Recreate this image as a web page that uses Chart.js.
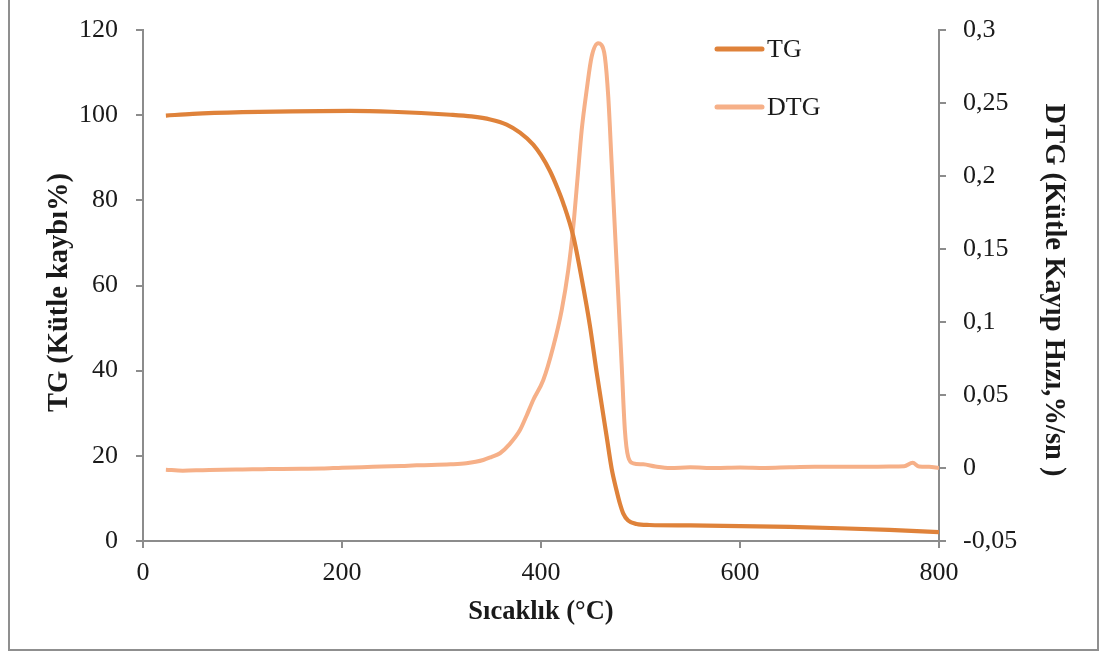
<!DOCTYPE html>
<html><head><meta charset="utf-8">
<script src="https://cdn.jsdelivr.net/npm/chart.js@4.4.1/dist/chart.umd.min.js"></script>
<style>html,body{margin:0;padding:0;background:#fff;}canvas{display:block}</style>
</head><body>
<canvas id="c" width="1105" height="655"></canvas>
<script>
// ---- data ----
const tgTemp  = [23, 50, 100, 150, 208, 250, 309, 330, 349, 365.5, 378.9, 392.2, 400, 409, 416, 422.4, 432.4, 440.9, 449.2, 456, 461, 466, 471, 476, 479.3, 482.6, 487.6, 496, 509, 550, 600, 650, 700, 750, 800];
const tgValue = [99.9, 100.3, 100.7, 100.9, 101.0, 100.8, 100.1, 99.7, 99.0, 97.8, 95.9, 93.1, 90.6, 86.9, 83.2, 79.3, 71.6, 61.6, 50.5, 39.5, 32.0, 24.5, 17.0, 11.8, 8.8, 6.5, 4.8, 4.0, 3.76, 3.65, 3.5, 3.3, 3.0, 2.6, 2.1];

const dtgTemp  = [23, 40, 60, 80, 100, 120, 140, 160, 180, 200, 220, 240, 260, 275, 290, 309, 325, 342, 350, 358.8, 368, 378.9, 385.6, 392.2, 402.3, 412.3, 420.8, 427.4, 432.4, 436.4, 440.9, 445.9, 450.9, 457.5, 460.5, 464.2, 467.6, 471, 474.3, 477.7, 481, 484.3, 487.6, 492.7, 502.7, 515, 530, 550, 575, 600, 625, 650, 675, 700, 725, 750, 765, 773.5, 780, 790, 800];
const dtgValue = [-0.0012, -0.0018, -0.0015, -0.0012, -0.0010, -0.0008, -0.0006, -0.0005, -0.0004, 0.0002, 0.0005, 0.0010, 0.0014, 0.0018, 0.0020, 0.0025, 0.0033, 0.0055, 0.0075, 0.0101, 0.0160, 0.0260, 0.0360, 0.0466, 0.0603, 0.0831, 0.1082, 0.1356, 0.1650, 0.1960, 0.2315, 0.2589, 0.2817, 0.2909, 0.2900, 0.2817, 0.2543, 0.2087, 0.1630, 0.1173, 0.0717, 0.0260, 0.0077, 0.0032, 0.0025, 0.0010, 0.0000, 0.0005, 0.0000, 0.0003, 0.0000, 0.0005, 0.0008, 0.0008, 0.0008, 0.0010, 0.0012, 0.0036, 0.0010, 0.0008, 0.0000];

const seriesNames = ['TG', 'DTG'];
const xTickValues = [0, 200, 400, 600, 800];
const leftTickValues = [0, 20, 40, 60, 80, 100, 120];
const rightTickValues = [-0.05, 0, 0.05, 0.1, 0.15, 0.2, 0.25, 0.3];
const rightTickLabels = ['-0,05', '0', '0,05', '0,1', '0,15', '0,2', '0,25', '0,3'];
const xTitle = 'Sıcaklık (°C)';
const leftTitle = 'TG (Kütle kaybı%)';
const rightTitle = 'DTG (Kütle Kayıp Hızı,%/sn )';

// ---- styling ----
const FONT = "'Liberation Serif', 'Times New Roman', serif";
const TG_COLOR = 'rgb(223,130,58)';
const DTG_COLOR = 'rgb(246,176,136)';
const AXIS_COLOR = '#8c8c8c';
const TEXT_COLOR = '#1a1a1a';

const toPoints = (xs, ys) => xs.map((x, i) => ({x: x, y: ys[i]}));

const bgPlugin = {
  id: 'bg',
  beforeDraw(chart) {
    const ctx = chart.ctx;
    ctx.save();
    ctx.fillStyle = '#fff';
    ctx.fillRect(0, 0, chart.width, chart.height);
    ctx.strokeStyle = '#8f8f8f';
    ctx.lineWidth = 2;
    ctx.strokeRect(9, -5, 1089, 655);
    ctx.restore();
  }
};

// y-axis titles (drawn centred where the reference puts them)
const yTitlesPlugin = {
  id: 'yTitles',
  afterDraw(chart) {
    const ctx = chart.ctx;
    [[leftTitle, 60, 292.5, -Math.PI / 2], [rightTitle, 1053, 290, Math.PI / 2]].forEach(([t, x, y, r]) => {
      ctx.save();
      ctx.fillStyle = TEXT_COLOR;
      ctx.font = "bold 28.5px " + FONT;
      ctx.textAlign = 'center';
      ctx.textBaseline = 'middle';
      ctx.translate(x, y);
      ctx.rotate(r);
      ctx.fillText(t, 0, 0);
      ctx.restore();
    });
  }
};

const legendPlugin = {
  id: 'customLegend',
  afterDatasetsDraw(chart) {
    const ctx = chart.ctx;
    const items = chart.data.datasets;
    const rows = [49, 107];
    ctx.save();
    items.forEach((ds, i) => {
      const y = rows[i];
      ctx.strokeStyle = ds.borderColor;
      ctx.lineWidth = 5;
      ctx.lineCap = 'round';
      ctx.beginPath();
      ctx.moveTo(717, y);
      ctx.lineTo(762, y);
      ctx.stroke();
      ctx.fillStyle = TEXT_COLOR;
      ctx.font = "26px " + FONT;
      ctx.textAlign = 'left';
      ctx.textBaseline = 'middle';
      ctx.fillText(ds.label, 767, y + 1);
    });
    ctx.restore();
  }
};

const gridOpts = {
  display: true,
  drawOnChartArea: false,
  drawTicks: true,
  tickLength: 7,
  color: AXIS_COLOR,
  lineWidth: 2
};

function fixVertical(width) {
  return function (s) {
    s.width = width;
    s.paddingTop = 0;
    s.paddingBottom = 0;
  };
}

new Chart(document.getElementById('c'), {
  type: 'line',
  data: {
    datasets: [
      {
        label: seriesNames[0],
        data: toPoints(tgTemp, tgValue),
        yAxisID: 'y',
        borderColor: TG_COLOR,
        borderWidth: 4.2,
        pointRadius: 0,
        cubicInterpolationMode: 'monotone',
        fill: false
      },
      {
        label: seriesNames[1],
        data: toPoints(dtgTemp, dtgValue),
        yAxisID: 'y1',
        borderColor: DTG_COLOR,
        borderWidth: 4,
        pointRadius: 0,
        cubicInterpolationMode: 'monotone',
        fill: false
      }
    ]
  },
  options: {
    responsive: false,
    animation: false,
    layout: {padding: {top: 30, left: 0, right: 0, bottom: 0}},
    plugins: {legend: {display: false}, tooltip: {enabled: false}},
    scales: {
      x: {
        type: 'linear',
        position: 'bottom',
        min: 0, max: 800,
        afterBuildTicks(s) { s.ticks = xTickValues.map(v => ({value: v})); },
        afterFit(s) { s.height = 114; s.paddingLeft = 0; s.paddingRight = 0; },
        grid: gridOpts,
        border: {display: true, color: AXIS_COLOR, width: 2},
        ticks: {color: TEXT_COLOR, font: {family: FONT, size: 26}, padding: 10, maxRotation: 0, autoSkip: false},
        title: {display: true, text: xTitle, color: TEXT_COLOR, font: {family: FONT, size: 26.5, weight: 'bold'}, padding: {top: 0, bottom: 27}}
      },
      y: {
        type: 'linear',
        position: 'left',
        min: 0, max: 120,
        afterBuildTicks(s) { s.ticks = leftTickValues.map(v => ({value: v})); },
        afterFit: fixVertical(143),
        grid: gridOpts,
        border: {display: true, color: AXIS_COLOR, width: 2},
        ticks: {color: TEXT_COLOR, font: {family: FONT, size: 26}, padding: 18, autoSkip: false},
        title: {display: false, text: leftTitle}
      },
      y1: {
        type: 'linear',
        position: 'right',
        min: -0.05, max: 0.3,
        afterBuildTicks(s) { s.ticks = rightTickValues.map(v => ({value: v})); },
        afterFit: fixVertical(166),
        grid: gridOpts,
        border: {display: true, color: AXIS_COLOR, width: 2},
        ticks: {
          color: TEXT_COLOR, font: {family: FONT, size: 26}, padding: 17, autoSkip: false,
          callback: (v, i) => rightTickLabels[i]
        },
        title: {display: false, text: rightTitle}
      }
    }
  },
  plugins: [bgPlugin, yTitlesPlugin, legendPlugin]
});
</script>
</body></html>
